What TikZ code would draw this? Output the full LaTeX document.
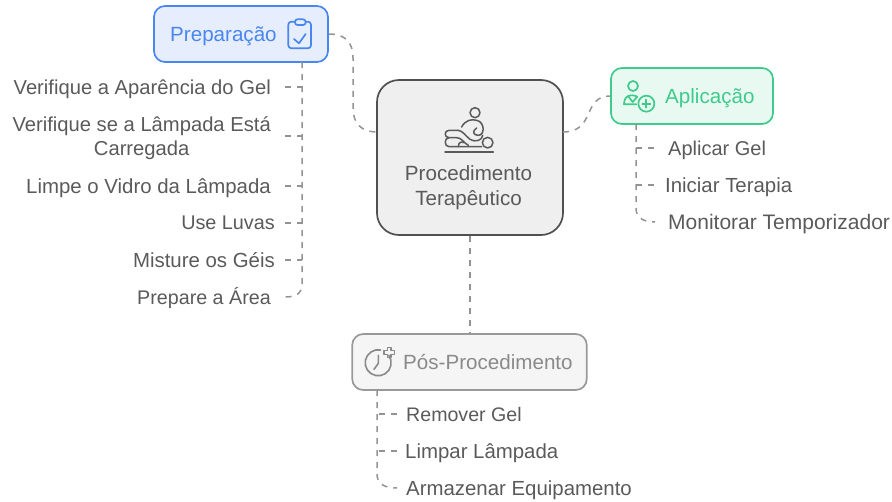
\documentclass[tikz,border=0pt]{standalone}
\usepackage{fontspec}
\setmainfont{Liberation Sans}
\definecolor{txt}{HTML}{5A5A5A}
\definecolor{conn}{HTML}{939393}
\definecolor{blueS}{HTML}{4A86F0}
\definecolor{blueF}{HTML}{E6EEFD}
\definecolor{greenS}{HTML}{3FCB8C}
\definecolor{greenF}{HTML}{E8F9F1}
\definecolor{grayS}{HTML}{999999}
\definecolor{grayF}{HTML}{F5F5F5}
\definecolor{grayT}{HTML}{8A8A8A}
\definecolor{coreS}{HTML}{505050}
\definecolor{coreF}{HTML}{EFEFEF}
\tikzset{
  box/.style={rectangle,rounded corners=11pt,line width=1.7pt,inner sep=0pt},
  leaf/.style={text=txt,font=\fontsize{#1}{24.5}\selectfont,inner sep=0pt,align=center},
  leaf/.default=20.4,
  link/.style={draw=conn,line width=1.5pt,dash pattern=on 6pt off 6pt},
  lab/.style={font=\fontsize{20.6}{25}\selectfont,inner sep=0pt}
}
\begin{document}
\begin{tikzpicture}[x=1pt,y=-1pt]
\useasboundingbox (0,0) rectangle (892,501);
% boxes
\node[box,draw=coreS,fill=coreF,rounded corners=22pt,minimum width=186pt,minimum height=155pt] (core) at (470,157.5) {};
\node[box,draw=blueS,fill=blueF,minimum width=174pt,minimum height=56pt] (prep) at (241,34) {};
\node[box,draw=greenS,fill=greenF,minimum width=162pt,minimum height=56pt] (apl) at (692,96) {};
\node[box,draw=grayS,fill=grayF,minimum width=234.5pt,minimum height=56pt] (pos) at (469.5,362) {};
% box labels
\node[lab,text=txt,align=center] (coretxt) at (468.5,187.5) {Procedimento\\[0pt]Terapêutico};
\node[lab,text=blueS,anchor=west] (preptxt) at (170,36.5) {Preparação};
\node[lab,text=greenS,anchor=west] (apltxt) at (665,98.5) {Aplicação};
\node[lab,text=grayT,anchor=west] (postxt) at (403,362.5) {Pós-Procedimento};
% leaves
\node[leaf=20.2,anchor=east] (p1) at (271,89) {Verifique a Aparência do Gel};
\node[leaf=20.2,anchor=east] (p2) at (271,138) {Verifique se a Lâmpada Está\\Carregada};
\node[leaf,anchor=east] (p3) at (271,188.5) {Limpe o Vidro da Lâmpada};
\node[leaf=19.8,anchor=east] (p4) at (275,223) {Use Luvas};
\node[leaf,anchor=east] (p5) at (275,260.5) {Misture os Géis};
\node[leaf=19.7,anchor=east] (p6) at (271,297.5) {Prepare a Área};
\node[leaf=20,anchor=west] (a1) at (668,150.5) {Aplicar Gel};
\node[leaf,anchor=west] (a2) at (665,187.5) {Iniciar Terapia};
\node[leaf=21,anchor=west] (a3) at (668,224.5) {Monitorar Temporizador};
\node[leaf=19.6,anchor=west] (d1) at (406,414.5) {Remover Gel};
\node[leaf,anchor=west] (d2) at (405,453.5) {Limpar Lâmpada};
\node[leaf,anchor=west] (d3) at (406,490.5) {Armazenar Equipamento};
% connector ends
\coordinate (pt) at (302,62);
\coordinate (at) at (636,124);
\coordinate (dt) at (377,390);
\coordinate (c1) at (285,87);
\coordinate (c2) at (285,136);
\coordinate (c3) at (285,186);
\coordinate (c4) at (285,223);
\coordinate (c5) at (285,260);
\coordinate (c6) at (285,297);
\coordinate (b1) at (654,148);
\coordinate (b2) at (654,185);
\coordinate (b3) at (655,222);
\coordinate (e1) at (397,414);
\coordinate (e2) at (397,451);
\coordinate (e3) at (397,488);
\coordinate (cl) at (377,132);
\coordinate (cr) at (563,132);
% main connectors
\draw[link] (prep.east) .. controls (345,34) and (353,42) .. (353,58) -- (353,108) .. controls (353,124) and (362,132) .. (cl);
\draw[link] (cr) .. controls (596,132) and (582,96) .. (apl.west);
\draw[link] (core.south) -- (core.south |- pos.north);
% trunks
\draw[link] (pt) -- ++(0,223) .. controls (302,292) and (298,297) .. (c6);
\draw[link] (at) -- ++(0,84) .. controls (636,217) and (642,222) .. (b3);
\draw[link] (dt) -- ++(0,84) .. controls (377,483) and (383,488) .. (e3);
% branches
\foreach \n in {c1,c2,c3,c4,c5} \draw[link] (\n) -- (pt |- \n);
\foreach \n in {b1,b2} \draw[link] (\n) -- (at |- \n);
\foreach \n in {e1,e2} \draw[link] (\n) -- (dt |- \n);
% clipboard icon
\begin{scope}[shift={(140,0)},x=0.3333pt,y=-0.3333pt,draw=blueS,line width=1.7pt,line join=round,line cap=round]
\draw[rounded corners=3pt] (465,65) -- (445,65) -- (445,145) -- (513,145) -- (513,65) -- (497,65);
\draw[rounded corners=2.5pt] (465,58) rectangle (497,75);
\draw (462,117) -- (477,130) -- (497,102);
\end{scope}
% massage icon
\begin{scope}[shift={(440,102)},x=0.3333pt,y=-0.3333pt,draw=txt,line width=1.5pt,line cap=round,line join=round]
\draw (105,32) circle (5pt);
\draw (15,150) -- (160,150);
\draw (143,122) circle (5.3pt);
\draw (65,75) .. controls (75,55) and (95,50) .. (110,55) .. controls (135,60) and (135,100) .. (115,100) .. controls (100,100) and (95,88) .. (110,78);
\draw (55,85) -- (27,85) .. controls (12,85) and (12,107) .. (27,107) -- (50,107) .. controls (65,107) and (70,122) .. (85,130);
\draw (55,85) .. controls (70,88) and (75,100) .. (90,112) .. controls (105,122) and (128,115) .. (128,100);
\draw (27,107) .. controls (12,107) and (12,134) .. (27,134) -- (125,134);
\draw (55,134) .. controls (55,120) and (65,118) .. (72,122);
\end{scope}
% person plus icon
\begin{scope}[shift={(618,76)},x=0.3333pt,y=-0.3333pt,draw=greenS,line width=1.7pt,line cap=round,line join=round]
\draw (45,30) circle (5pt);
\draw (58,62) .. controls (50,57) and (35,57) .. (32,60) .. controls (22,62) and (18,75) .. (18,85) -- (55,85);
\draw (30,60) -- (44,78) -- (58,62);
\draw (85,83) circle (8pt);
\draw[line width=2pt] (85,71) -- (85,95) (73,83) -- (97,83);
\end{scope}
% clock plus icon
\begin{scope}[shift={(360,342)},x=0.3333pt,y=-0.3333pt,draw=grayT,line width=1.6pt,line cap=round,line join=round]
\draw (62,24) arc[start angle=79,end angle=395,radius=13pt];
\draw (55,40) -- (55,64) -- (42,82);
\draw (83,16) -- (93,16) -- (93,26) -- (103,26) -- (103,37) -- (93,37) -- (93,47) -- (83,47) -- (83,37) -- (72,37) -- (72,26) -- (83,26) -- cycle;
\end{scope}
\end{tikzpicture}
\end{document}
